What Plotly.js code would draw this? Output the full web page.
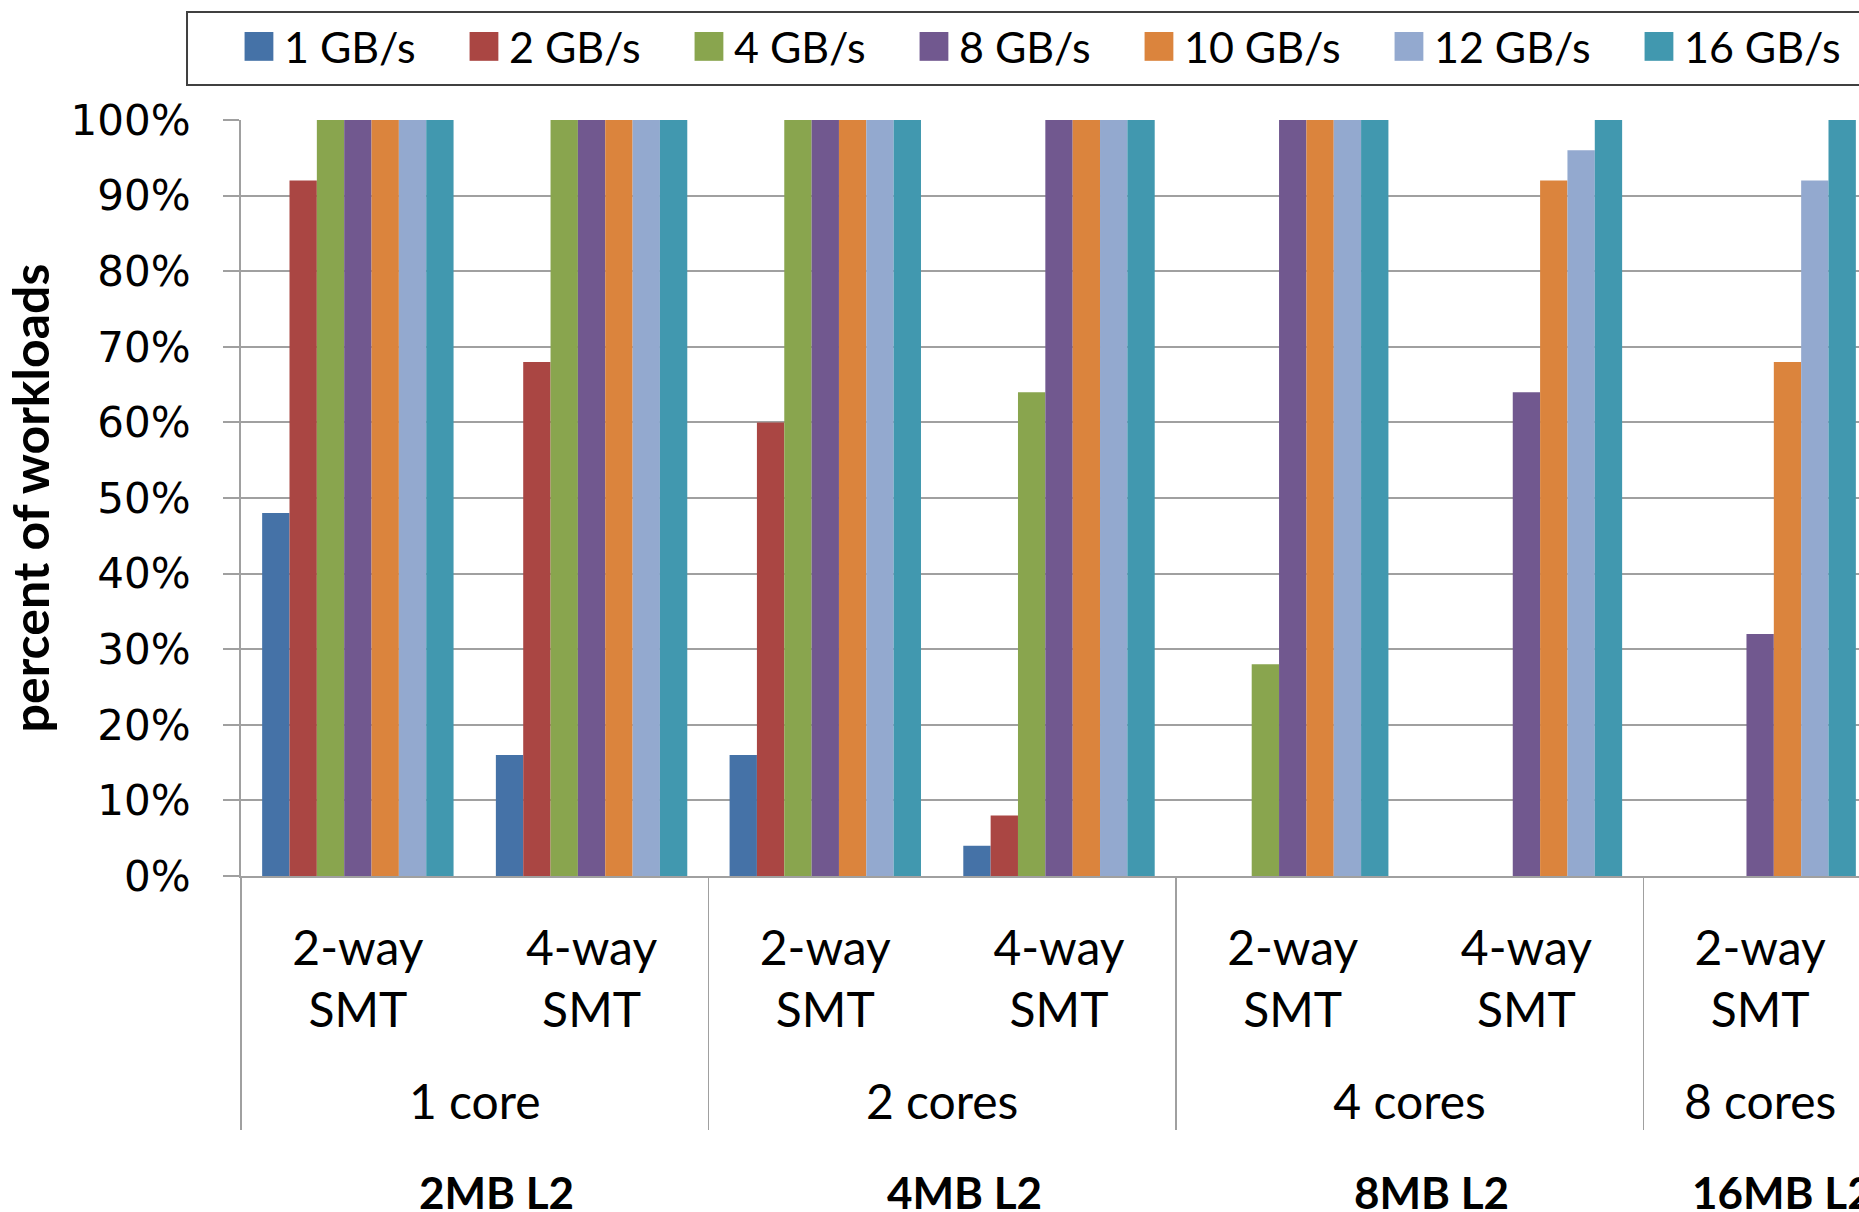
<!DOCTYPE html>
<html>
<head>
<meta charset="utf-8">
<script src="https://cdn.plot.ly/plotly-3.0.1.min.js"></script>
<style>
  html, body { margin: 0; padding: 0; overflow: hidden; background: #ffffff; }
  #chart { width: 1937px; height: 1212px; }
</style>
</head>
<body>
<div id="chart"></div>
<script>
// Categories: core count (outer level) and SMT mode (inner level)
const coreGroups = ['1 core', '1 core', '2 cores', '2 cores', '4 cores', '4 cores', '8 cores'];
const smtModes = ['2-way SMT', '4-way SMT', '2-way SMT', '4-way SMT', '2-way SMT', '4-way SMT', '2-way SMT'];
const cacheLabels = ['2MB L2', '4MB L2', '8MB L2', '16MB L2'];

// Memory bandwidth series
const bandwidthNames = ['1 GB/s', '2 GB/s', '4 GB/s', '8 GB/s', '10 GB/s', '12 GB/s', '16 GB/s'];
const bw1 = [48, 16, 16, 4, 0, 0, 0];
const bw2 = [92, 68, 60, 8, 0, 0, 0];
const bw4 = [100, 100, 100, 64, 28, 0, 0];
const bw8 = [100, 100, 100, 100, 100, 64, 32];
const bw10 = [100, 100, 100, 100, 100, 92, 68];
const bw12 = [100, 100, 100, 100, 100, 96, 92];
const bw16 = [100, 100, 100, 100, 100, 100, 100];

const seriesValues = [bw1, bw2, bw4, bw8, bw10, bw12, bw16];
const seriesColors = ['#4572A7', '#AA4643', '#89A54E', '#71588F', '#DB843D', '#93A9CF', '#4198AF'];

// Axis label formatting: SMT mode on two lines, core count one line lower
const innerLabels = smtModes.map(s => s.replace(' ', '<br>'));
const outerLabels = coreGroups.map(c => '<br>' + c);

const traces = seriesValues.map((vals, i) => ({
  type: 'bar',
  name: bandwidthNames[i],
  x: [outerLabels, innerLabels],
  y: vals,
  marker: { color: seriesColors[i], line: { width: 0 } },
  // legend entry width follows the label length
  legendwidth: 170 + 25 * (bandwidthNames[i].length - 6),
  hoverinfo: 'skip'
}));

// Cache-size row under each core group (group centres in paper units)
const groupCentres = [1 / 7, 3 / 7, 5 / 7, 6.5 / 7];
const cacheAnnotations = cacheLabels.map((label, g) => ({
  text: '<b>' + label + '</b>',
  xref: 'paper', yref: 'paper',
  x: groupCentres[g], y: -0.418,
  xanchor: 'center', yanchor: 'middle',
  xshift: 22,
  borderpad: 0,
  showarrow: false,
  font: { family: 'Lato, "Open Sans", sans-serif', size: 44, color: '#000000' }
}));

const gridGray = '#a0a0a0';

const layout = {
  width: 1937,
  height: 1212,
  margin: { l: 241, r: 60, t: 120, b: 336 },
  paper_bgcolor: '#ffffff',
  plot_bgcolor: '#ffffff',
  barmode: 'group',
  bargap: 0.181,
  bargroupgap: 0,
  showlegend: true,
  legend: {
    orientation: 'h',
    x: -0.0043, xanchor: 'left',
    y: 1.1429, yanchor: 'top',
    bgcolor: 'rgba(0,0,0,0)',
    borderwidth: 0,
    font: { family: 'Lato, "Open Sans", sans-serif', size: 43, color: '#000000' },
    itemwidth: 40,
    traceorder: 'normal'
  },
  // frame around the legend row
  shapes: [{
    type: 'rect', xref: 'paper', yref: 'paper',
    x0: -0.033, x1: 1.2, y0: 1.0463, y1: 1.1429,
    line: { color: '#404040', width: 2 },
    fillcolor: 'rgba(0,0,0,0)',
    layer: 'below'
  }],
  xaxis: {
    type: 'multicategory',
    showline: true,
    linecolor: gridGray,
    linewidth: 2,
    ticks: '',
    showgrid: false,
    showdividers: true,
    dividercolor: gridGray,
    dividerwidth: 1.5,
    tickfont: { family: 'Lato, "Open Sans", sans-serif', size: 48, color: '#000000' },
    ticklabelstandoff: 29,
    fixedrange: true
  },
  yaxis: {
    range: [0, 100],
    dtick: 10,
    ticksuffix: '%',
    showline: true,
    linecolor: gridGray,
    linewidth: 2,
    ticks: 'outside',
    ticklen: 16,
    tickwidth: 2,
    tickcolor: gridGray,
    showgrid: true,
    gridcolor: gridGray,
    gridwidth: 2,
    zeroline: false,
    tickfont: { family: '"DejaVu Sans", Verdana, sans-serif', size: 42, color: '#000000' },
    ticklabelstandoff: 24,
    title: {
      text: '<b>percent of workloads</b>',
      font: { family: 'Lato, "Open Sans", sans-serif', size: 50, color: '#000000' },
      standoff: 5
    },
    fixedrange: true
  },
  annotations: cacheAnnotations
};

Plotly.newPlot('chart', traces, layout, { displayModeBar: false, staticPlot: true }).then(gd => {
  // enlarge the legend swatches to the size of the legend text
  gd.querySelectorAll('.legend .legendpoints path').forEach(p => {
    const t = p.getAttribute('transform') || '';
    p.setAttribute('transform', t + ' scale(2.4)');
  });
});
</script>
</body>
</html>
